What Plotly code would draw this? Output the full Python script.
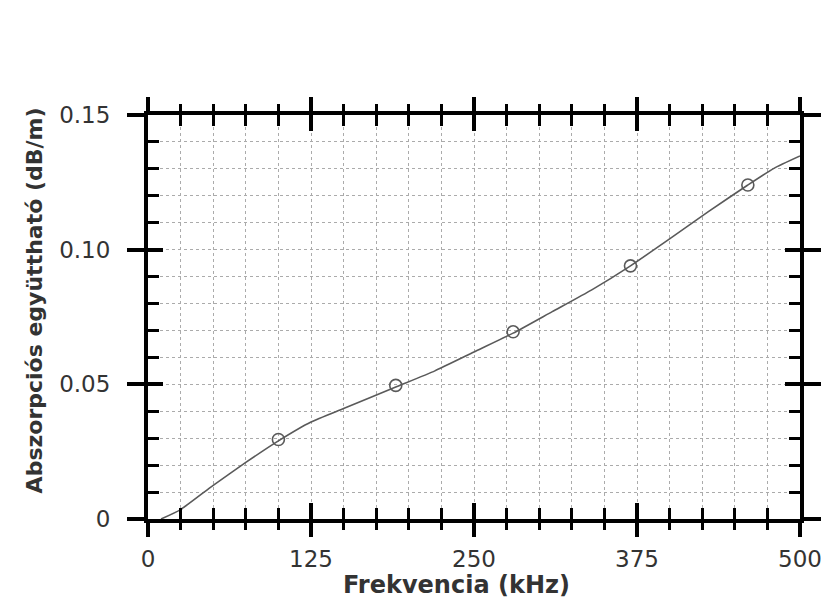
import plotly.graph_objects as go

# Curve (frequency kHz, absorption dB/m)
curve_khz = [10, 25, 50, 75, 100, 125, 150, 190, 220, 250, 280, 310, 340, 370, 400, 430, 460, 480, 500]
curve_db = [0.0, 0.0035, 0.0125, 0.021, 0.029, 0.036, 0.041, 0.049, 0.055, 0.062, 0.069,
            0.077, 0.085, 0.094, 0.104, 0.1142, 0.124, 0.1302, 0.1348]

# Measured points (open circles)
pts_khz = [100, 190, 280, 370, 460]
pts_db = [0.0295, 0.0496, 0.0695, 0.094, 0.124]

x_ticks = [0, 125, 250, 375, 500]
x_labels = ["0", "125", "250", "375", "500"]
y_ticks = [0, 0.05, 0.10, 0.15]
y_labels = ["0", "0.05", "0.10", "0.15"]

x_title = "Frekvencia (kHz)"
y_title = "Abszorpciós együttható (dB/m)"

LINE = "#5a5a5a"
GRID = "#ababab"
TICKFONT = dict(family="DejaVu Sans", size=23, color="#333333")

fig = go.Figure()
fig.add_trace(go.Scatter(x=curve_khz, y=curve_db, mode="lines",
                         line=dict(color=LINE, width=1.6, shape="spline", smoothing=0.5),
                         hoverinfo="skip", showlegend=False))
fig.add_trace(go.Scatter(x=pts_khz, y=pts_db, mode="markers",
                         marker=dict(symbol="circle-open", size=12, color=LINE,
                                     line=dict(width=1.6, color=LINE)),
                         showlegend=False))
# invisible trace on the overlay axes
fig.add_trace(go.Scatter(x=[0], y=[0], xaxis="x2", yaxis="y2", mode="markers",
                         marker=dict(opacity=0), hoverinfo="skip", showlegend=False))

common_x = dict(range=[0, 500], showline=True, linecolor="black", linewidth=4,
                mirror="ticks", zeroline=False, tickcolor="black", tickvals=x_ticks)
common_y = dict(range=[0, 0.15], showline=True, linecolor="black", linewidth=4,
                mirror="ticks", zeroline=False, tickcolor="black", tickvals=y_ticks)

fig.update_layout(
    width=834, height=610,
    margin=dict(l=148, r=26, t=115, b=91),
    paper_bgcolor="white", plot_bgcolor="white",
    xaxis=dict(**common_x, ticks="inside", ticklen=16, tickwidth=4, showticklabels=False,
               showgrid=True, gridcolor=GRID, griddash="dot", gridwidth=1,
               minor=dict(dtick=25, tick0=0, ticks="inside", ticklen=11, tickwidth=3,
                          tickcolor="black", showgrid=True, gridcolor=GRID,
                          griddash="dot", gridwidth=1)),
    xaxis2=dict(**common_x, overlaying="x", anchor="y", side="bottom",
                ticks="outside", ticklen=14, tickwidth=4, showticklabels=True,
                ticktext=x_labels, tickfont=TICKFONT, showgrid=False, ticklabelstandoff=2,
                minor=dict(dtick=25, tick0=0, ticks="outside", ticklen=7, tickwidth=3,
                           tickcolor="black", showgrid=False)),
    yaxis=dict(**common_y, ticks="inside", ticklen=15, tickwidth=4, showticklabels=False,
               showgrid=True, gridcolor=GRID, griddash="dot", gridwidth=1,
               minor=dict(dtick=0.01, tick0=0, ticks="inside", ticklen=11, tickwidth=3,
                          tickcolor="black", showgrid=True, gridcolor=GRID,
                          griddash="dot", gridwidth=1)),
    yaxis2=dict(**common_y, overlaying="y", anchor="x", side="left",
                ticks="outside", ticklen=17, tickwidth=4, showticklabels=True,
                ticktext=y_labels, tickfont=TICKFONT, showgrid=False, ticklabelstandoff=12),
    annotations=[
        dict(text=f"<b>{x_title}</b>", xref="paper", yref="paper", x=(460 - 148) / 660,
             y=-(585 - 519) / 404, xanchor="center", yanchor="middle", showarrow=False,
             font=dict(family="DejaVu Sans", size=24, color="#333333")),
        dict(text=f"<b>{y_title}</b>", xref="paper", yref="paper", x=(33 - 148) / 660,
             y=(519 - 300) / 404, xanchor="center", yanchor="middle", showarrow=False,
             textangle=-90, font=dict(family="DejaVu Sans", size=22, color="#333333")),
    ],
)

fig.write_html("out.html")
